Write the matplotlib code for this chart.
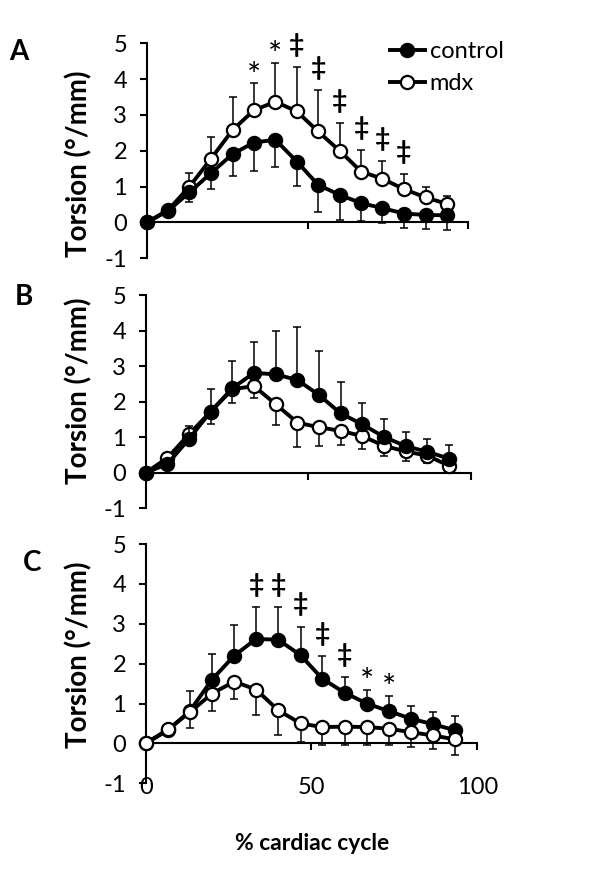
import matplotlib
matplotlib.use("Agg")
import matplotlib.pyplot as plt

plt.rcParams['font.family'] = ['Lato', 'DejaVu Sans']

# % cardiac cycle
cycle = [0, 6.7, 13.3, 20, 26.7, 33.3, 40, 46.7, 53.3, 60, 66.7, 73.3, 80, 86.7, 93.3]

# panel A
a_control = [0, 0.33, 0.84, 1.38, 1.91, 2.23, 2.31, 1.70, 1.05, 0.77, 0.54, 0.40, 0.25, 0.21, 0.20]
a_control_err = [0, 0.12, 0.28, 0.45, 0.6, 0.8, 0.75, 0.68, 0.75, 0.7, 0.5, 0.42, 0.4, 0.38, 0.41]
a_mdx = [0, 0.35, 1.0, 1.78, 2.58, 3.13, 3.37, 3.10, 2.54, 2.0, 1.42, 1.22, 0.93, 0.70, 0.52]
a_mdx_err = [0, 0.1, 0.38, 0.6, 0.93, 0.75, 1.09, 1.24, 1.16, 0.78, 0.6, 0.49, 0.41, 0.28, 0.23]
a_marks = ['', '', '', '', '', '*', '*', '‡', '‡', '‡', '‡', '‡', '‡', '', '']

# panel B
b_control = [0, 0.25, 0.95, 1.72, 2.38, 2.81, 2.77, 2.61, 2.19, 1.67, 1.36, 1.01, 0.75, 0.59, 0.40]
b_control_err = [0, 0.08, 0.38, 0.63, 0.77, 0.88, 1.23, 1.5, 1.24, 0.89, 0.59, 0.5, 0.4, 0.35, 0.38]
b_mdx = [0, 0.42, 1.08, 1.72, 2.35, 2.44, 1.93, 1.41, 1.28, 1.18, 1.03, 0.76, 0.60, 0.48, 0.20]
b_mdx_err = [0, 0.08, 0.2, 0.35, 0.4, 0.33, 0.59, 0.68, 0.53, 0.4, 0.37, 0.29, 0.27, 0.2, 0.15]

# panel C
c_control = [0, 0.33, 0.81, 1.6, 2.2, 2.62, 2.6, 2.21, 1.62, 1.27, 1.0, 0.81, 0.62, 0.48, 0.33]
c_control_err = [0, 0.1, 0.5, 0.63, 0.78, 0.8, 0.82, 0.72, 0.56, 0.39, 0.33, 0.37, 0.33, 0.31, 0.35]
c_mdx = [0, 0.35, 0.78, 1.25, 1.55, 1.35, 0.83, 0.5, 0.41, 0.42, 0.41, 0.37, 0.28, 0.2, 0.1]
c_mdx_err = [0, 0.1, 0.39, 0.44, 0.43, 0.63, 0.63, 0.47, 0.46, 0.47, 0.46, 0.42, 0.37, 0.35, 0.38]
c_marks = ['', '', '', '', '', '‡', '‡', '‡', '‡', '‡', '*', '*', '', '', '']

yticks = [-1, 0, 1, 2, 3, 4, 5]
xticks = [0, 50, 100]

fig = plt.figure(figsize=(6, 8.81), dpi=100)

axA = fig.add_axes([0.2445, 0.7068, 0.536, 0.244])
axB = fig.add_axes([0.2428, 0.4230, 0.5417, 0.2421])
axC = fig.add_axes([0.2428, 0.1109, 0.5527, 0.2716])


def draw_series(ax, y, err, filled, up, z):
    face = 'black' if filled else 'white'
    lower = [0] * len(err)
    yerr = [lower, err] if up else [err, lower]
    ax.errorbar(cycle, y, yerr=yerr, fmt='none', ecolor='black', elinewidth=1.1,
                capsize=2.6, capthick=1.1, zorder=z - 1, clip_on=False)
    ax.plot(cycle, y, color='black', lw=2.8, marker='o', markersize=9.5,
            markerfacecolor=face, markeredgecolor='black', markeredgewidth=1.6,
            zorder=z, clip_on=False)


def style_axes(ax, letter, label_pos):
    ax.set_xlim(0, 100)
    ax.set_ylim(-1, 5)
    ax.spines['top'].set_visible(False)
    ax.spines['right'].set_visible(False)
    ax.spines['left'].set_linewidth(1.5)
    ax.spines['bottom'].set_linewidth(1.5)
    ax.spines['bottom'].set_position(('data', 0))
    ax.set_yticks(yticks)
    ax.set_yticklabels([str(t) for t in yticks], fontsize=17)
    ax.set_xticks(xticks)
    ax.set_xticklabels([])
    ax.tick_params(axis='y', direction='out', length=5, width=1.5, pad=9)
    ax.tick_params(axis='x', direction='out', length=5, width=1.5)
    ax.set_ylabel('Torsion (°/mm)', fontsize=20, fontweight='bold')
    ax.yaxis.set_label_coords(label_pos[0], label_pos[1])
    fig.text(letter[1], letter[2], letter[0], fontsize=20, fontweight='bold',
             ha='center', va='center')


def add_marks(ax, base, err, marks):
    for x, y, e, m in zip(cycle, base, err, marks):
        if m == '':
            continue
        if m == '‡':
            ax.annotate(m, (x, y + e), xytext=(0, 16), textcoords='offset points',
                        ha='center', va='center', fontsize=19, fontweight='bold')
        else:
            ax.annotate(m, (x, y + e), xytext=(0, 5), textcoords='offset points',
                        ha='center', va='center', fontsize=24)


# A
draw_series(axA, a_mdx, a_mdx_err, False, True, 3)
draw_series(axA, a_control, a_control_err, True, False, 5)
add_marks(axA, a_mdx, a_mdx_err, a_marks)
style_axes(axA, ('A', 19 / 600, 1 - 52 / 881), (-0.168, 0.44))
axA.plot([], [], color='black', lw=2.8, marker='o', markersize=9.5,
         markerfacecolor='black', markeredgewidth=1.6, label='control')
axA.plot([], [], color='black', lw=2.8, marker='o', markersize=9.5,
         markerfacecolor='white', markeredgewidth=1.6, label='mdx')
axA.legend(loc='upper left', bbox_to_anchor=(0.755, 1.01), frameon=False,
           fontsize=17, handlelength=1.5, handletextpad=0.2, labelspacing=0.45,
           borderaxespad=0, borderpad=0)

# B
draw_series(axB, b_mdx, b_mdx_err, False, False, 3)
draw_series(axB, b_control, b_control_err, True, True, 5)
style_axes(axB, ('B', 24 / 600, 1 - 297 / 881), (-0.163, 0.55))

# C
draw_series(axC, c_control, c_control_err, True, True, 3)
draw_series(axC, c_mdx, c_mdx_err, False, False, 5)
add_marks(axC, c_control, c_control_err, c_marks)
style_axes(axC, ('C', 32 / 600, 1 - 563 / 881), (-0.16, 0.536))
for t in xticks:
    axC.text(t, -1.1, str(t), ha='center', va='center', fontsize=17)
fig.text(312 / 600, 1 - 843 / 881, '% cardiac cycle', ha='center', va='center',
         fontsize=16.5, fontweight='bold')

fig.savefig('out.png', dpi=100)
